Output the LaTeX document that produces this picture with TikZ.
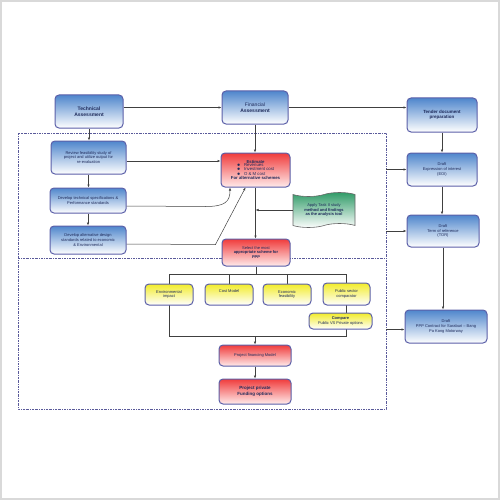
\documentclass[tikz,border=0pt]{standalone}
\usepackage{fontspec}
\setmainfont{Liberation Sans}
\usetikzlibrary{shapes.symbols,arrows.meta,calc,backgrounds}
\definecolor{navy}{HTML}{1E2A5A}
\definecolor{bord}{HTML}{5B5FA8}
\definecolor{bluetop}{HTML}{4F86CC}
\definecolor{redtop}{HTML}{F03C3C}
\definecolor{yeltop}{HTML}{F2EC2A}
\definecolor{greentop}{HTML}{2E9A66}
\definecolor{dotc}{HTML}{5A5A9A}
\begin{document}
\begin{tikzpicture}[x=1pt,y=-1pt,
  box/.style={draw=bord, line width=1pt, rounded corners=4pt, inner sep=1pt,
    align=center, text=navy, font=\fontsize{4}{4.8}\selectfont},
  bluebox/.style={box, top color=bluetop, middle color=bluetop!45, bottom color=white},
  redbox/.style={box, top color=redtop, middle color=redtop!55, bottom color=red!8},
  yelbox/.style={box, top color=yeltop, middle color=yeltop!60, bottom color=white},
  greendoc/.style={box, tape, rounded corners=0pt, tape bend height=4pt,
    top color=greentop, middle color=greentop!45, bottom color=white, draw=black!60, line width=0.6pt},
  conn/.style={draw=black!75, line width=0.5pt},
  arr/.style={conn, -{Latex[length=3pt,width=2.4pt]}},
  dotline/.style={draw=dotc, line width=0.8pt, dash pattern=on 2pt off 1pt on 0.6pt off 1pt}]
\useasboundingbox (0,0) rectangle (500,500);
\draw[black!15, line width=2pt] (1,1) rectangle (499,499);

% dotted frame
\coordinate (dTL) at (18,133);
\coordinate (dBR) at (386,409);
\coordinate (dR) at (386,0);
\draw[dotline] (dTL) rectangle (dBR);
\draw[dotline] (18,258) -- (386,258);

% nodes
\node[bluebox, minimum width=68pt, minimum height=33pt, font=\fontsize{5}{6}\selectfont\bfseries] (tech) at (89,111.5) {Technical\\Assessment};
\node[bluebox, minimum width=66pt, minimum height=33pt, font=\fontsize{5}{6}\selectfont] (fin) at (255,107.5) {Financial\\\textbf{Assessment}};
\node[bluebox, minimum width=70pt, minimum height=34pt, font=\fontsize{4.5}{5.5}\selectfont\bfseries] (tender) at (442,115) {Tender document\\preparation};
\node[bluebox, minimum width=75pt, minimum height=33pt] (review) at (88.5,157.5) {Review feasibility study of\\project and utilize output for\\re-evaluation};
\node[bluebox, minimum width=76pt, minimum height=25pt] (devtech) at (88,200.5) {Develop technical specifications \&\\Performance standards};
\node[bluebox, minimum width=76pt, minimum height=28pt] (devalt) at (88,240) {Develop alternative design\\standards related to economic\\\& Environmental};
\node[redbox, minimum width=69pt, minimum height=34pt, font=\fontsize{4.3}{5}\selectfont] (est) at (255.5,170) {\textbf{Estimate}\\[-0.5pt]
  {\def\arraystretch{0.8}\begin{tabular}{@{}l@{}}$\bullet$\ \ \ Revenues\\$\bullet$\ \ \ Investment cost\\$\bullet$\ \ \ O \& M cost\end{tabular}}\\[-0.5pt]
  \textbf{For alternative schemes}};
\node[greendoc, minimum width=62pt, minimum height=35pt] (apply) at (324,210) {Apply Task II study\\\textbf{method and findings}\\\textbf{as the analysis tool}};
\node[redbox, minimum width=68pt, minimum height=27pt] (select) at (256,252.5) {Select the most\\\textbf{appropriate scheme for}\\\textbf{PPP}};
\node[bluebox, minimum width=70pt, minimum height=33pt] (eoi) at (442,169.5) {Draft\\Expression of interest\\(EOI)};
\node[bluebox, minimum width=72pt, minimum height=32pt] (tor) at (443,231) {Draft\\Term of reference\\(TOR)};
\node[bluebox, minimum width=82pt, minimum height=33pt] (ppp) at (446,326.5) {Draft\\PPP Contract for Saraburi -- Bang\\Pa Kong Motorway};
\node[yelbox, minimum width=48pt, minimum height=21pt] (env) at (169,294.5) {Environmental\\impact};
\node[yelbox, minimum width=48pt, minimum height=21pt] (cost) at (229,294.5) {Cost Model\\[3pt]};
\node[yelbox, minimum width=48pt, minimum height=21pt] (econ) at (287,294.5) {Economic\\feasibility};
\node[yelbox, minimum width=47pt, minimum height=22pt] (pub) at (346.5,294) {Public sector\\comparator};
\node[yelbox, minimum width=63pt, minimum height=16pt] (comp) at (340.5,321) {\textbf{Compare}\\Public VS Private options};
\node[redbox, minimum width=72pt, minimum height=21pt] (finm) at (255,355.5) {Project financing Model};
\node[redbox, minimum width=72pt, minimum height=25pt, font=\fontsize{4.5}{5.5}\selectfont\bfseries] (fund) at (255,391.5) {Project private\\Funding options};

% connectors
\coordinate (rv) at ($(review.east)+(0,3.5)$);
\coordinate (dt) at ($(devtech.east)+(0,5.5)$);
\coordinate (da) at ($(devalt.east)+(0,4)$);
\coordinate (pw) at ($(ppp.west)+(0,3)$);
\draw[arr] (tech.east |- fin.west) -- (fin.west);
\draw[arr] (fin.east) -- (fin.east -| tender.west);
\draw[arr] (tech.south) -- (tech.south |- review.north);
\draw[arr] (fin.south) -- (fin.south |- est.north);
\draw[arr] (review.south) -- (review.south |- devtech.north);
\draw[arr] (devtech.south) -- (devtech.south |- devalt.north);
\draw[arr] (rv) -- (rv -| est.west);
\draw[arr] (dt) -- ($(est.south)+(-50,19)$)
   .. controls ($(est.south)+(-30,19)$) and ($(est.south)+(-25.5,14)$) .. ($(est.south)+(-25.5,0)$);
\draw[arr] (da) -- ($(est.south)+(-40,57)$) -- ($(est.south)+(-10,0)$);
\draw[arr] (apply.west) -- (apply.west -| est.south);
\draw[arr] (est.south) -- (est.south |- select.north);
\draw[arr] (tender.south) -- (tender.south |- eoi.north);
\draw[arr] (eoi.south) -- (eoi.south |- tor.north);
\draw[arr] (tor.south) -- (tor.south |- ppp.north);
\draw[arr] (eoi.west -| dR) -- (eoi.west);
\draw[arr] (tor.west -| dR) -- (tor.west);
\draw[arr] (pw -| dR) -- (pw);

\coordinate (bt) at ($(select.south)+(0,7.5)$);
\coordinate (bb) at ($(finm.north)+(0,-8)$);
\begin{scope}[on background layer]
\draw[conn] (select.south) -- (bt);
\draw[conn] (env.center |- bt) -- (pub.center |- bt);
\draw[conn] (env.center |- bt) -- (env.center |- bb) -- (pub.center |- bb) -- (pub.center |- bt);
\draw[conn] (cost.north |- bt) -- (cost.north);
\draw[conn] (econ.north |- bt) -- (econ.north);
\end{scope}
\draw[arr] (finm.north |- bb) -- (finm.north);
\draw[arr] (finm.south) -- (fund.north);
\end{tikzpicture}
\end{document}
